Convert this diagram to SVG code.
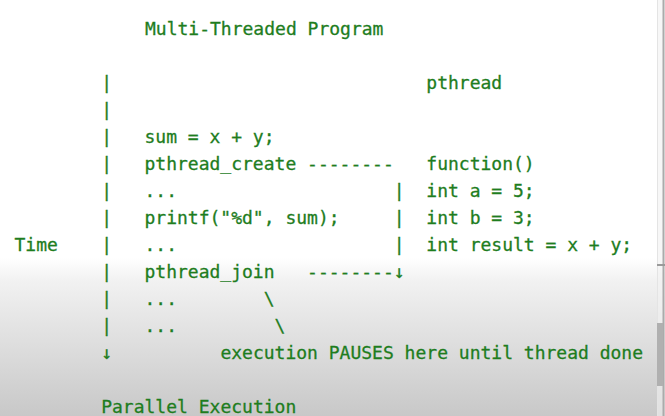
<svg xmlns="http://www.w3.org/2000/svg" width="665" height="416" viewBox="0 0 665 416">
  <defs>
    <linearGradient id="fade" x1="0" y1="0" x2="0" y2="1">
      <stop offset="0" stop-color="#ffffff"/>
      <stop offset="0.15" stop-color="#f1f1f1"/>
      <stop offset="1" stop-color="#c8c8c8"/>
    </linearGradient>
  </defs>
  <style>
    text { font-family: "DejaVu Sans Mono", "Liberation Mono", monospace; font-size: 18px; fill: #1e7d1e; stroke: #1e7d1e; stroke-width: 0.3; white-space: pre; }
  </style>
  <rect x="0" y="0" width="665" height="416" fill="#ffffff"/>
  <rect x="0" y="258" width="665" height="158" fill="url(#fade)"/>
  <g id="scrollbar">
    <rect x="657" y="0" width="8" height="416" fill="#f2f2f2" opacity="0.6"/>
    <line x1="657.5" y1="0" x2="657.5" y2="416" stroke="#e4e4e4" stroke-width="1"/>
    <line x1="663.5" y1="0" x2="663.5" y2="416" stroke="#ababab" stroke-width="2"/>
    <rect x="657" y="264" width="8" height="2" fill="#9a9a9a"/>
    <rect x="657" y="323" width="6" height="63" fill="#b0b0b0"/>
  </g>

  <g id="title"><text x="145" y="35">Multi-Threaded Program</text></g>
  <g id="time-label"><text x="14.5" y="251">Time</text></g>

  <g id="main-thread">
    <text x="144.5" y="143">sum = x + y;</text>
    <text x="144.5" y="170">pthread_create</text>
    <text x="144.5" y="197">...</text>
    <text x="144.5" y="224">printf("%d", sum);</text>
    <text x="144.5" y="251">...</text>
    <text x="144.5" y="278">pthread_join</text>
    <text x="144.5" y="305">...</text>
    <text x="144.5" y="332">...</text>
  </g>

  <g id="pthread">
    <text x="426.3" y="89">pthread</text>
    <text x="426.3" y="170">function()</text>
    <text x="426.3" y="197">int a = 5;</text>
    <text x="426.3" y="224">int b = 3;</text>
    <text x="426.3" y="251">int result = x + y;</text>
  </g>

  <g id="annotation"><text x="220.4" y="359">execution PAUSES here until thread done</text></g>
  <g id="footer"><text x="101.2" y="413">Parallel Execution</text></g>

  <g id="connectors">
    <text x="101.2" y="89">|</text>
    <text x="101.2" y="116">|</text>
    <text x="101.2" y="143">|</text>
    <text x="101.2" y="170">|</text>
    <text x="101.2" y="197">|</text>
    <text x="101.2" y="224">|</text>
    <text x="101.2" y="251">|</text>
    <text x="101.2" y="278">|</text>
    <text x="101.2" y="305">|</text>
    <text x="101.2" y="332">|</text>
    <text x="101.2" y="359">↓</text>
    <text x="307.1" y="170">--------</text>
    <text x="393.8" y="197">|</text>
    <text x="393.8" y="224">|</text>
    <text x="393.8" y="251">|</text>
    <text x="307.1" y="278">--------↓</text>
    <text x="263.7" y="305">\</text>
    <text x="274.6" y="332">\</text>
  </g>
</svg>
